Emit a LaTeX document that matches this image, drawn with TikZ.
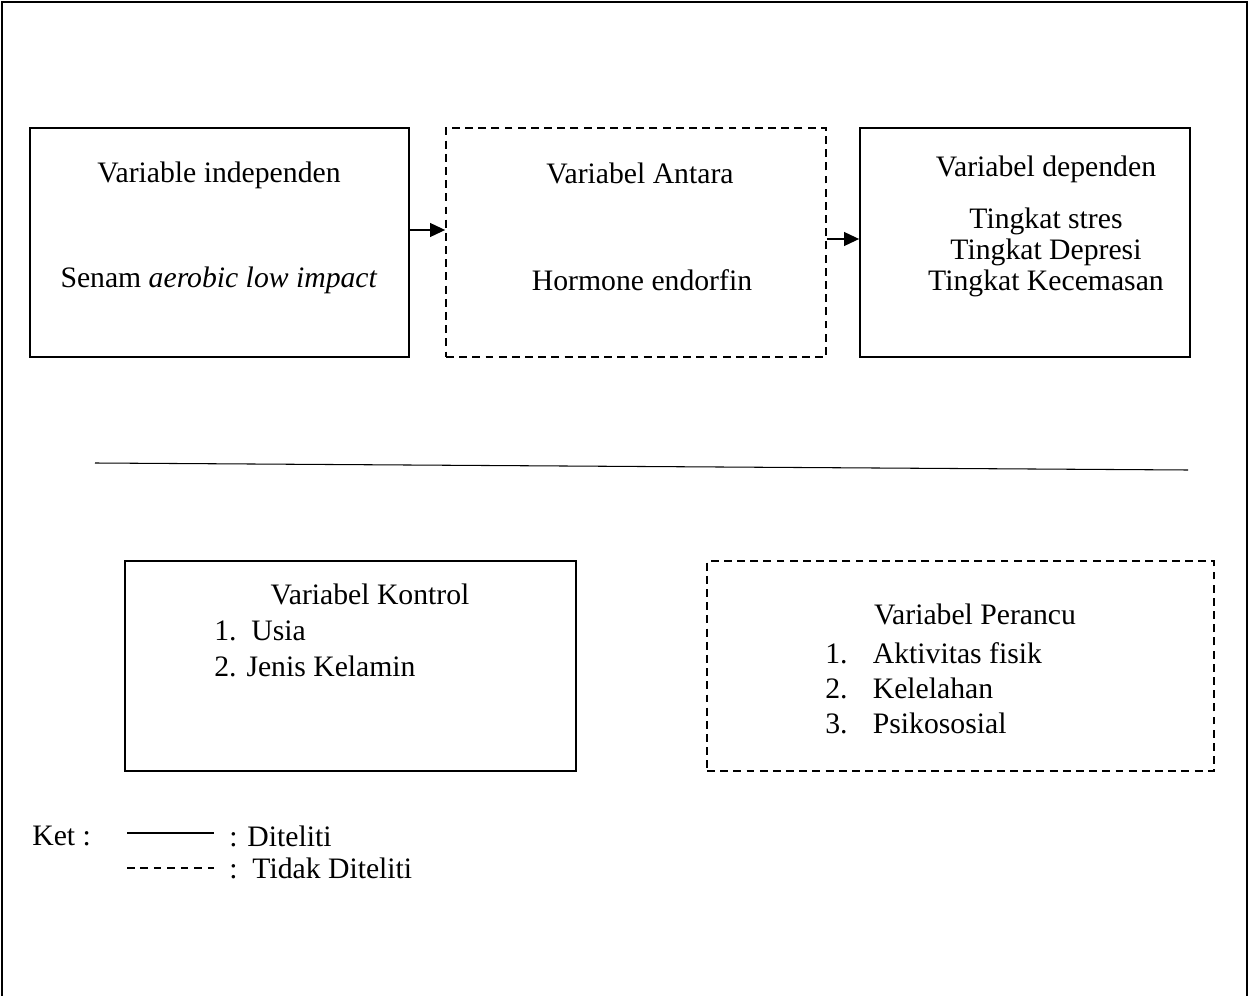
\documentclass[tikz,border=0pt]{standalone}
\usepackage{fontspec}
\setmainfont{Liberation Serif}
\usetikzlibrary{arrows.meta,positioning}

\begin{document}
\begin{tikzpicture}[x=0.02cm,y=-0.02cm,
  varbox/.style={draw,line width=1.1pt,minimum height=4.58cm,inner sep=0pt},
  varboxdash/.style={varbox,dash pattern=on 4.5pt off 3pt},
  lowbox/.style={draw,line width=1.1pt,minimum height=4.2cm,inner sep=0pt},
  lowboxdash/.style={lowbox,dash pattern=on 4.5pt off 3pt},
  txt/.style={font=\fontsize{16.9}{20}\selectfont,inner sep=0pt},
  link/.style={line width=0.6pt,-{Triangle[length=0.3cm,width=0.28cm]}}
]
  \useasboundingbox (0,0) rectangle (1250,996);
  % outer frame, open at the bottom
  \draw[line width=1.1pt] (2,996) -- (2,2) -- (1247,2) -- (1247,996);

  % top row
  \node[varbox,minimum width=7.58cm] (indep) at (219.5,242.5) {};
  \node[varboxdash,minimum width=7.6cm] (antara) at (636,242.5) {};
  \node[varbox,minimum width=6.6cm] (dep) at (1025,242.5) {};

  \node[txt] (indeptitle) at (219,175) {Variable independen};
  \node[txt] (indepitem) at (219,280) {Senam \textit{aerobic low impact}};
  \node[txt] (antaratitle) at (640,173) {Variabel Antara};
  \node[txt] (antaraitem) at (642,280) {Hormone endorfin};
  \node[txt] (deptitle) at (1046,169) {Variabel dependen};
  \node[txt] (depone) at (1046,221) {Tingkat stres};
  \node[txt] (deptwo) at (1046,252) {Tingkat Depresi};
  \node[txt] (depthree) at (1046,283) {Tingkat Kecemasan};

  \draw[link] ([yshift=0.25cm]indep.east) -- ([yshift=0.25cm]antara.west);
  \draw[link] ([yshift=0.07cm]antara.east) -- ([yshift=0.07cm]dep.west);

  % separator
  \draw[line width=0.6pt] (95,463) -- (1188,470);

  % bottom row
  \node[lowbox,minimum width=9.02cm] (kontrol) at (350.5,666) {};
  \node[lowboxdash,minimum width=10.14cm] (perancu) at (960.5,666) {};

  \node[txt] (kontroltitle) at (370,594) {Variabel Kontrol};
  \node[txt,anchor=west] (kontrolone) at (214,631) {1.\hspace{0.5em}Usia};
  \node[txt,anchor=west] (kontroltwo) at (214,666) {2. Jenis Kelamin};

  \node[txt] (perancutitle) at (975,614) {Variabel Perancu};
  \node[txt,anchor=west] (perancuone) at (825,653) {1.\hspace{0.85em}Aktivitas fisik};
  \node[txt,anchor=west] (perancutwo) at (825,688) {2.\hspace{0.85em}Kelelahan};
  \node[txt,anchor=west] (perancuthree) at (825,723) {3.\hspace{0.85em}Psikososial};

  % legend
  \node[txt,anchor=west] (ket) at (32,836) {Ket :};
  \coordinate (solidA) at (127,833);
  \coordinate (solidB) at (214,833);
  \draw[line width=0.7pt] (solidA) -- (solidB);
  \node[txt,anchor=west] (diteliti) at (229,836) {: Diteliti};
  \coordinate (dashA) at (127,868);
  \coordinate (dashB) at (214,868);
  \draw[line width=0.6pt,dash pattern=on 0.15cm off 0.12cm] (dashA) -- (dashB);
  \node[txt,anchor=west] (tidak) at (229,868) {:\hspace{0.5em}Tidak Diteliti};
\end{tikzpicture}
\end{document}
